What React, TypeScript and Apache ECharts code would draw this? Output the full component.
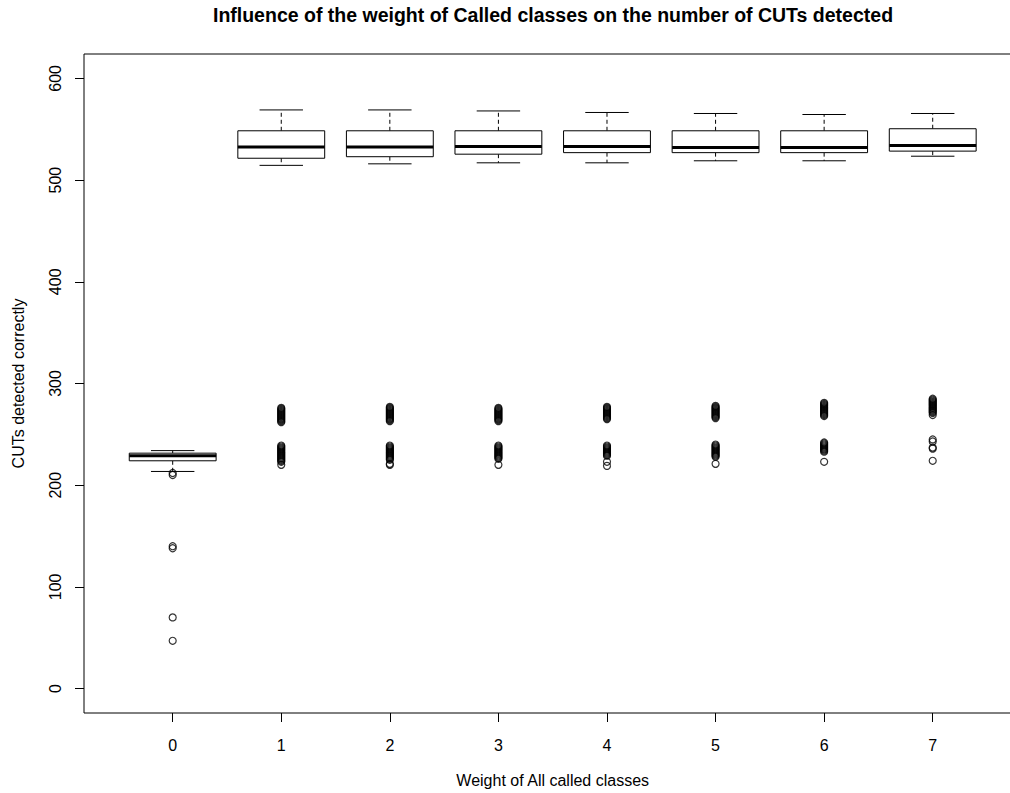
import React, { useEffect, useRef } from "react";
import * as echarts from "echarts";

const titleText = "Influence of the weight of Called classes on the number of CUTs detected";
const xAxisTitle = "Weight of All called classes";
const yAxisTitle = "CUTs detected correctly";

const categories = ["0", "1", "2", "3", "4", "5", "6", "7"];
const yTicks = [0, 100, 200, 300, 400, 500, 600];

// [min whisker, Q1, median, Q3, max whisker]
const stats0 = [213.5, 224, 229, 231.5, 234];
const stats1 = [514.5, 521.5, 532.5, 548.5, 569];
const stats2 = [516, 523, 532.5, 548.5, 569];
const stats3 = [517, 525.5, 533, 548.5, 568];
const stats4 = [517, 527, 533, 548.5, 566.5];
const stats5 = [519, 527, 532, 548.5, 565.5];
const stats6 = [519, 527, 532, 548.5, 564.5];
const stats7 = [523.5, 528.5, 534, 550.5, 565.5];

const outliers0 = [210, 212, 138, 140, 70, 47];
const outliers1 = [262, 263, 264, 265, 266, 267, 268, 269, 270, 271, 272, 273, 274, 275, 276,
  220, 223, 224, 225, 226, 227, 228, 229, 230, 231, 232, 233, 234, 235, 236, 237, 238, 239];
const outliers2 = [263, 264, 265, 266, 267, 268, 269, 270, 271, 272, 273, 274, 275, 276, 277,
  220, 221, 225, 226, 227, 228, 229, 230, 231, 232, 233, 234, 235, 236, 237, 238, 239];
const outliers3 = [263, 264, 265, 266, 267, 268, 269, 270, 271, 272, 273, 274, 275, 276,
  220, 226, 227, 228, 229, 230, 231, 232, 233, 234, 235, 236, 237, 238, 239];
const outliers4 = [265, 266, 267, 268, 269, 270, 271, 272, 273, 274, 275, 276, 277,
  219, 223, 229, 230, 231, 232, 233, 234, 235, 236, 237, 238, 239];
const outliers5 = [266, 267, 268, 269, 270, 271, 272, 273, 274, 275, 276, 277, 278,
  221, 228, 229, 230, 231, 232, 233, 234, 235, 236, 237, 238, 239, 240];
const outliers6 = [268, 269, 270, 271, 272, 273, 274, 275, 276, 277, 278, 279, 280, 281,
  223, 233, 234, 235, 236, 237, 238, 239, 240, 241, 242];
const outliers7 = [269, 271, 272, 273, 274, 275, 276, 277, 278, 279, 280, 281, 282, 283, 284, 285,
  224, 236, 237, 243, 245];

const allStats = [stats0, stats1, stats2, stats3, stats4, stats5, stats6, stats7];
const allOutliers = [outliers0, outliers1, outliers2, outliers3, outliers4, outliers5, outliers6, outliers7];

const FONT = "'Liberation Sans', Arial, sans-serif";

export default function App() {
  const ref = useRef<HTMLDivElement>(null);

  useEffect(() => {
    if (!ref.current) return;
    const chart = echarts.init(ref.current, undefined, { renderer: "svg" });

    const boxData = allStats.map((s, i) => [i, ...s]);
    const outlierData: number[][] = [];
    allOutliers.forEach((arr, i) => arr.forEach((v) => outlierData.push([i, v])));

    const solid = { stroke: "#000", lineWidth: 1, fill: null };
    const dashed = { stroke: "#000", lineWidth: 1, lineDash: [4, 3], fill: null };

    chart.setOption({
      animation: false,
      backgroundColor: "#fff",
      title: {
        text: titleText,
        left: "center",
        top: 0,
        textStyle: { fontSize: 19.5, fontWeight: "bold", color: "#000", fontFamily: FONT },
      },
      grid: [
        { left: 84, right: 84, top: 54, bottom: 80, show: true, borderColor: "#000", borderWidth: 1, backgroundColor: "transparent" },
        { left: 118.4, right: 119, top: 54, bottom: 80 },
      ],
      xAxis: [
        { gridIndex: 0, type: "value", show: false, min: 0, max: 1 },
        {
          gridIndex: 1,
          type: "category",
          data: categories,
          boundaryGap: true,
          position: "bottom",
          axisLine: { show: false, onZero: false },
          axisTick: { show: true, alignWithLabel: true, length: 9, lineStyle: { color: "#000" } },
          axisLabel: { fontSize: 16, color: "#000", margin: 24, fontFamily: FONT },
          splitLine: { show: false },
          name: xAxisTitle,
          nameLocation: "middle",
          nameGap: 59,
          nameTextStyle: { fontSize: 16, color: "#000", fontFamily: FONT },
        },
      ],
      yAxis: [
        { gridIndex: 0, type: "value", show: false, min: 0, max: 1 },
        {
          gridIndex: 1,
          type: "value",
          min: -24,
          max: 624,
          offset: 34.4,
          axisLine: { show: false, onZero: false },
          axisTick: { show: true, length: 9, customValues: yTicks, lineStyle: { color: "#000" } },
          axisLabel: { fontSize: 16, color: "#000", margin: 21, rotate: 90, customValues: yTicks, fontFamily: FONT },
          splitLine: { show: false },
          name: yAxisTitle,
          nameLocation: "middle",
          nameGap: 58,
          nameRotate: 90,
          nameTextStyle: { fontSize: 16, color: "#000", fontFamily: FONT },
        },
      ],
      series: [
        {
          type: "custom",
          xAxisIndex: 1,
          yAxisIndex: 1,
          data: boxData,
          encode: { x: 0, y: [1, 2, 3, 4, 5] },
          renderItem: (params: any, api: any) => {
            const i = api.value(0);
            const mn = api.value(1), q1 = api.value(2), md = api.value(3), q3 = api.value(4), mx = api.value(5);
            const band = api.size([1, 0])[0];
            const hw = band * 0.4;
            const cw = hw * 0.5;
            const cx = api.coord([i, mn])[0];
            const yMin = api.coord([i, mn])[1];
            const yQ1 = api.coord([i, q1])[1];
            const yMd = api.coord([i, md])[1];
            const yQ3 = api.coord([i, q3])[1];
            const yMax = api.coord([i, mx])[1];
            return {
              type: "group",
              children: [
                { type: "line", shape: { x1: cx, y1: yQ3, x2: cx, y2: yMax }, style: dashed },
                { type: "line", shape: { x1: cx, y1: yQ1, x2: cx, y2: yMin }, style: dashed },
                { type: "line", shape: { x1: cx - cw, y1: yMax, x2: cx + cw, y2: yMax }, style: solid },
                { type: "line", shape: { x1: cx - cw, y1: yMin, x2: cx + cw, y2: yMin }, style: solid },
                { type: "rect", shape: { x: cx - hw, y: yQ3, width: 2 * hw, height: yQ1 - yQ3 }, style: { fill: "#fff", stroke: "#000", lineWidth: 1 } },
                { type: "line", shape: { x1: cx - hw, y1: yMd, x2: cx + hw, y2: yMd }, style: { stroke: "#000", lineWidth: 3 } },
              ],
            };
          },
        },
        {
          type: "scatter",
          xAxisIndex: 1,
          yAxisIndex: 1,
          data: outlierData,
          symbol: "circle",
          symbolSize: 7,
          itemStyle: { color: "rgba(0,0,0,0)", borderColor: "#000", borderWidth: 1.2 },
          emphasis: { disabled: true },
        },
      ],
    });

    return () => chart.dispose();
  }, []);

  return (
    <div style={{ position: "fixed", left: 0, top: 0, width: 1010, height: 793, overflow: "hidden", background: "#fff" }}>
      <div ref={ref} style={{ width: 1106, height: 793 }} />
    </div>
  );
}
